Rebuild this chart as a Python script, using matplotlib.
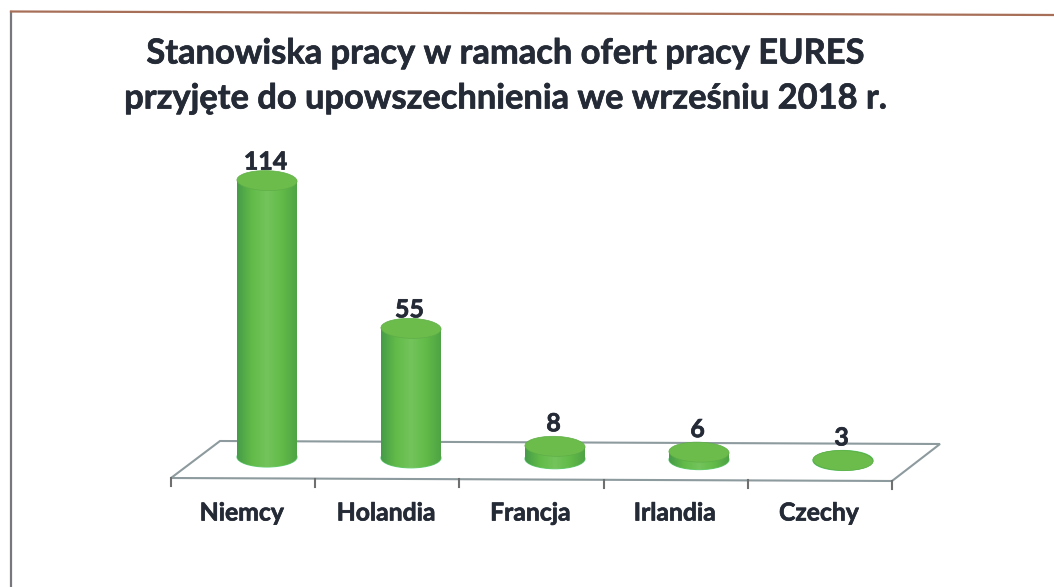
import numpy as np
import matplotlib.pyplot as plt
import matplotlib.patheffects as pe
from matplotlib.patches import Ellipse, Rectangle, Polygon
from matplotlib.path import Path
from matplotlib.colors import LinearSegmentedColormap

kraje = ['Niemcy', 'Holandia', 'Francja', 'Irlandia', 'Czechy']
wartosci = [114, 55, 8, 6, 3]
tytul = 'Stanowiska pracy w ramach ofert pracy EURES\nprzyjęte do upowszechnienia we wrześniu 2018 r.'

# os y zaczyna sie od 3, jak w oryginale (podloga wykresu)
y_min = 3
px_x = 144.0   # pikseli na kategorie
px_y = 2.49    # pikseli na jednostke
x0_px = 267
y0_px = 457

plt.rcParams['font.family'] = ['Lato', 'DejaVu Sans']
plt.rcParams['font.weight'] = 'bold'

fig = plt.figure(figsize=(10.54, 5.87), dpi=100)
ax = fig.add_axes([0, 0, 1, 1])
ax.axis('off')

def X(p):
    return (p - x0_px) / px_x

def Y(p):
    return y_min + (y0_px - p) / px_y

xlim = (X(0), X(1054))
ylim = (Y(587), Y(0))

kolor_tekstu = '#252b36'
gruby = [pe.withStroke(linewidth=0.5, foreground=kolor_tekstu)]

# ramka skanu
ax.plot([X(11), X(11)], [Y(587), Y(12)], color='#77777c', lw=1.6)
ax.plot([X(11), X(1054)], [Y(11.5), Y(15)], color='#a86f58', lw=1.6)

# podloga 3D
linia = '#8d9a9e'
ax.add_patch(Polygon([(X(171), Y(478)), (X(220), Y(441)), (X(940), Y(444)), (X(892), Y(481))],
                     closed=True, fill=False, edgecolor=linia, lw=1.5))
for i in range(len(kraje) + 1):
    xp = 171 + i * 144.2
    yp = 478 + i * 0.6
    ax.plot([X(xp), X(xp)], [Y(yp), Y(yp + 8)], color='#6f6f6f', lw=1.5)

cm = LinearSegmentedColormap.from_list('ziel', ['#469c48', '#62bb48', '#74c45c', '#62bb48', '#4ea444'])
grad = np.linspace(0, 1, 128).reshape(1, -1)

szer = 60 / px_x
el_h = 20 / px_y
# odstep etykiet od gory slupka, piksele (niskie slupki maja wiekszy)
odstep = [-3, -3, 1, 1, 1]

for i, v in enumerate(wartosci):
    # maly spadek podlogi w prawo
    dol = y_min - 0.35 * i
    gora = v - 0.35 * i
    im = ax.imshow(grad, cmap=cm, aspect='auto', zorder=3,
                   extent=[i - szer / 2, i + szer / 2, dol - el_h / 2, gora + el_h / 2])
    kol = Rectangle((i - szer / 2, dol), szer, gora - dol, transform=ax.transData)
    dno = Ellipse((i, dol), szer, el_h, transform=ax.transData)
    sciezka = kol.get_path().transformed(kol.get_patch_transform())
    el_s = dno.get_path().transformed(dno.get_patch_transform())
    im.set_clip_path(Path.make_compound_path(sciezka, el_s), transform=ax.transData)
    ax.add_patch(Ellipse((i, dol), szer, el_h, facecolor='none', edgecolor='#5fd07a', lw=0.8, zorder=2))
    ax.add_patch(Ellipse((i, gora), szer, el_h, angle=0.2, facecolor='#6cbc4c', edgecolor='#5fae48', lw=0.5, zorder=4))
    ax.text(i - 0.01, gora + el_h / 2 + odstep[i] / px_y, str(v), ha='center', va='bottom', fontsize=18,
            color=kolor_tekstu, zorder=5, path_effects=gruby)
    ax.text(i - 0.175 + 0.002 * i, Y(513), kraje[i], ha='center', va='center', fontsize=17.8, color=kolor_tekstu,
            path_effects=gruby)

ax.text(X(506), Y(76), tytul, ha='center', va='center', fontsize=24.8, color=kolor_tekstu, linespacing=1.5,
        path_effects=gruby)

ax.set_xlim(xlim)
ax.set_ylim(ylim)
fig.savefig('out.png', dpi=100)
